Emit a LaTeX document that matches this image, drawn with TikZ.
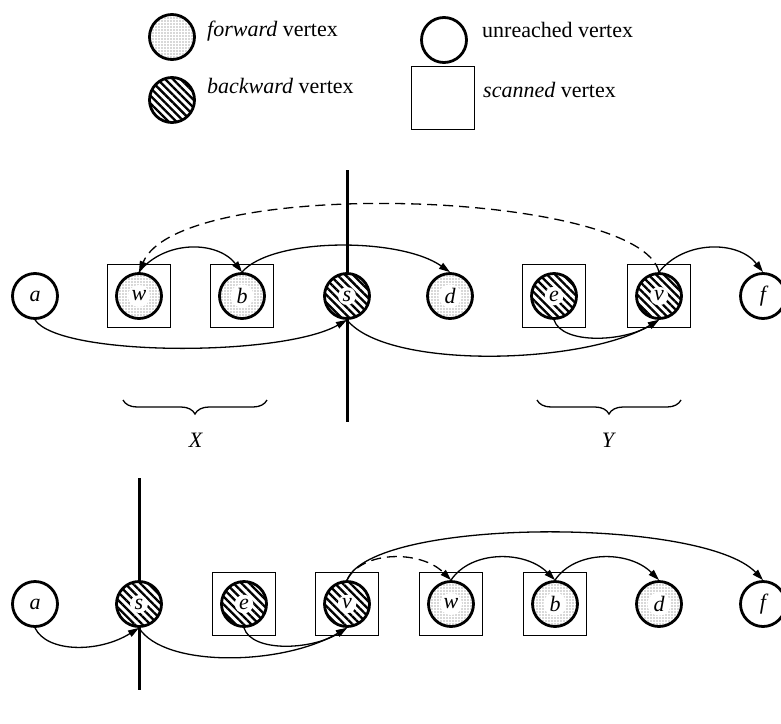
\documentclass[tikz,border=0pt]{standalone}
\usepackage{fontspec}
\setmainfont{Liberation Serif}
\usetikzlibrary{patterns.meta,arrows.meta,decorations.pathreplacing}
\begin{document}
\begin{tikzpicture}[x=1pt,y=-1pt,
  txt/.style={font=\fontsize{22}{26}\selectfont, inner sep=0pt},
  halo/.style={circle, fill=white, inner sep=1.5pt, font=\fontsize{22}{26}\selectfont\itshape},
  vtx/.style={circle, draw, line width=2.8pt, minimum size=45pt, inner sep=0pt},
  fwd/.style={vtx, preaction={fill=white}, pattern={Dots[distance=3pt,radius=0.55pt]}, pattern color=black!65},
  bwd/.style={vtx, preaction={fill=white}, pattern={Lines[angle=-45,distance=5.5pt,line width=2.3pt]}},
  unr/.style={vtx, fill=white},
  scanbox/.style={draw, line width=1.4pt, minimum size=63pt, inner sep=0pt},
  edge/.style={line width=1.3pt, -{Triangle[length=11pt,width=7pt]}},
  dashedge/.style={edge, dash pattern=on 10pt off 6pt},
  cut/.style={line width=3pt},
  brc/.style={line width=1.3pt, decorate, decoration={brace, mirror, amplitude=14pt}}
]
\useasboundingbox (0,0) rectangle (781,723);

% ---------- legend ----------
\node[fwd] (lf) at (172,37) {};
\node[txt, anchor=base west] (lft) at (207,36) {\textit{forward} vertex};
\node[bwd] (lb) at (172,100) {};
\node[txt, anchor=base west] (lbt) at (207,93) {\textit{backward} vertex};
\node[unr] (lu) at (444,40) {};
\node[txt, anchor=base west] (lut) at (482,37) {unreached vertex};
\node[scanbox] (ls) at (443,98) {};
\node[txt, anchor=base west] (lst) at (483,97) {\textit{scanned} vertex};

% ---------- top row ----------
\coordinate (tcut1) at (347,170);
\coordinate (tcut2) at (347,422);
\draw[cut] (tcut1) -- (tcut2);

\node[scanbox] (twbox) at (139,296) {};
\node[scanbox] (tbbox) at (242,296) {};
\node[scanbox] (tebox) at (554,296) {};
\node[scanbox] (tvbox) at (659,296) {};

\node[unr] (ta) at (35,296) {};
\node[fwd] (tw) at (139,296) {};
\node[fwd] (tb) at (242,296) {};
\node[bwd] (ts) at (347,296) {};
\node[fwd] (td) at (450,296) {};
\node[bwd] (te) at (554,296) {};
\node[bwd] (tv) at (659,296) {};
\node[unr] (tf) at (763,296) {};
\node[halo] (tal) at (ta) {a};
\node[halo] (twl) at (tw) {w};
\node[halo] (tbl) at (tb) {b};
\node[halo] (tsl) at (ts) {s};
\node[halo] (tdl) at (td) {d};
\node[halo] (tel) at (te) {e};
\node[halo] (tvl) at (tv) {v};
\node[halo] (tfl) at (tf) {f};

\draw[dashedge] (tv.north) .. controls +(-19,-82) and +(41,-97) .. (tw.north);
\draw[edge] (tw.north) .. controls +(25,-32) and +(-25,-32) .. (tb.north);
\draw[edge] (tb.north) .. controls +(30,-35) and +(-50,-35) .. (td.north);
\draw[edge] (tv.north) .. controls +(25,-32) and +(-25,-32) .. (tf.north);
\draw[edge] (ta.south) .. controls +(25,37) and +(-65,37) .. (ts.south);
\draw[edge] (ts.south) .. controls +(40,50) and +(-75,45) .. (tv.south);
\draw[edge] (te.south) .. controls +(8,25) and +(-35,22) .. (tv.south);

\coordinate (xb1) at (123,400);
\coordinate (xb2) at (267,400);
\draw[brc] (xb1) -- (xb2);
\node[txt] (xl) at (196,440) {\textit{X}};
\coordinate (yb1) at (537,400);
\coordinate (yb2) at (681,400);
\draw[brc] (yb1) -- (yb2);
\node[txt] (yl) at (609,440) {\textit{Y}};

% ---------- bottom row ----------
\coordinate (bcut1) at (139,478);
\coordinate (bcut2) at (139,690);
\draw[cut] (bcut1) -- (bcut2);

\node[scanbox] (bebox) at (244,604) {};
\node[scanbox] (bvbox) at (347,604) {};
\node[scanbox] (bwbox) at (451,604) {};
\node[scanbox] (bbbox) at (555,604) {};

\node[unr] (ba) at (35,604) {};
\node[bwd] (bs) at (139,604) {};
\node[bwd] (be) at (244,604) {};
\node[bwd] (bv) at (347,604) {};
\node[fwd] (bw) at (451,604) {};
\node[fwd] (bb) at (555,604) {};
\node[fwd] (bd) at (659,604) {};
\node[unr] (bf) at (763,604) {};
\node[halo] (bal) at (ba) {a};
\node[halo] (bsl) at (bs) {s};
\node[halo] (bel) at (be) {e};
\node[halo] (bvl) at (bv) {v};
\node[halo] (bwl) at (bw) {w};
\node[halo] (bbl) at (bb) {b};
\node[halo] (bdl) at (bd) {d};
\node[halo] (bfl) at (bf) {f};

\draw[edge] (bv.north) .. controls +(25,-63) and +(-60,-63) .. (bf.north);
\draw[dashedge] (bv.north) .. controls +(15,-30) and +(-30,-30) .. (bw.north);
\draw[edge] (bw.north) .. controls +(20,-30) and +(-30,-30) .. (bb.north);
\draw[edge] (bb.north) .. controls +(20,-30) and +(-30,-30) .. (bd.north);
\draw[edge] (ba.south) .. controls +(12,25) and +(-40,25) .. (bs.south);
\draw[edge] (bs.south) .. controls +(25,40) and +(-65,38) .. (bv.south);
\draw[edge] (be.south) .. controls +(8,25) and +(-35,22) .. (bv.south);
\end{tikzpicture}
\end{document}
